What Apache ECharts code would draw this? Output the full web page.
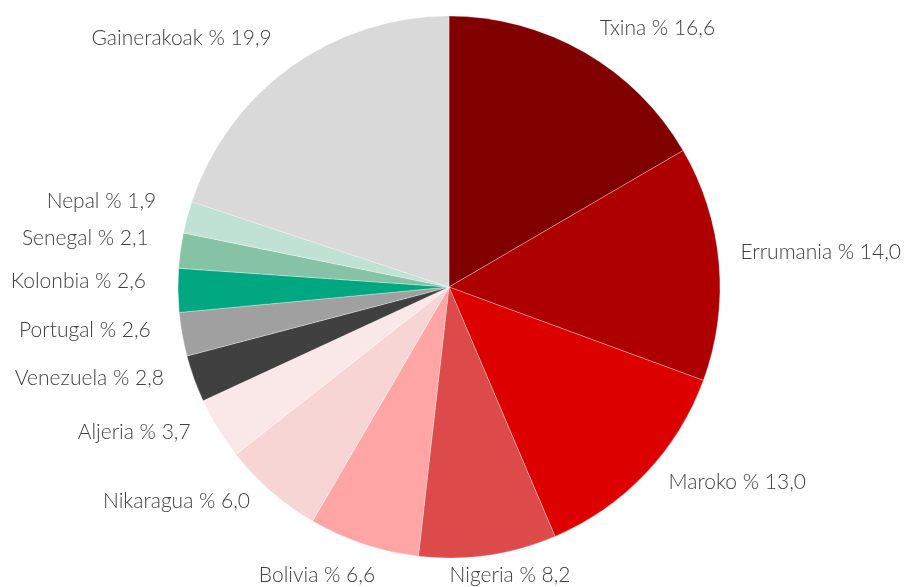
<!DOCTYPE html>
<html>
<head>
<meta charset="utf-8">
<script src="https://cdn.jsdelivr.net/npm/echarts@6/dist/echarts.min.js"></script>
<style>
  html, body { margin: 0; padding: 0; background: #fff; }
  #chart { width: 904px; height: 587px; }
</style>
</head>
<body>
<div id="chart"></div>
<script>
// herrialdeak eta ehunekoak (erlojuaren norabidean, goitik hasita)
const categories = ['Txina', 'Errumania', 'Maroko', 'Nigeria', 'Bolivia', 'Nikaragua', 'Aljeria',
  'Venezuela', 'Portugal', 'Kolonbia', 'Senegal', 'Nepal', 'Gainerakoak'];
const values = [16.6, 14.0, 13.0, 8.2, 6.6, 6.0, 3.7, 2.8, 2.6, 2.6, 2.1, 1.9, 19.9];
const colors = ['#800000', '#ae0000', '#dd0000', '#dc4a4a', '#ffa5a5', '#f8d5d5', '#fae8e8',
  '#404040', '#a0a0a0', '#00a882', '#86c3a6', '#c0e2d5', '#d9d9d9'];

const cx = 449, cy = 287, radius = 271;
const W = 904, H = 587;
const total = values.reduce((a, b) => a + b, 0);

const chart = echarts.init(document.getElementById('chart'));

chart.setOption({
  animation: false,
  series: [{
    type: 'pie',
    center: [cx, cy],
    radius: radius,
    startAngle: 90,
    clockwise: true,
    avoidLabelOverlap: false,
    itemStyle: { borderColor: 'rgba(255,255,255,0.6)', borderWidth: 0.5 },
    label: {
      show: true,
      position: 'outside',
      color: '#404040',
      fontFamily: 'Lato',
      fontWeight: 300,
      fontSize: 21,
      formatter: p => p.name + ' % ' + p.value.toFixed(1).replace('.', ',')
    },
    labelLine: { show: false },
    // etiketak xerraren erdiko angeluaren arabera kokatu, mihisearen barruan
    labelLayout: function (params) {
      const i = params.dataIndex;
      let before = 0;
      for (let k = 0; k < i; k++) before += values[k];
      const mid = (before + values[i] / 2) / total * Math.PI * 2;
      const ux = Math.sin(mid), uy = -Math.cos(mid);
      const R = radius + 32;
      const w = params.labelRect.width, h = params.labelRect.height;
      const s = Math.max(-1, Math.min(1, ux * 2));
      const dy = Math.abs(ux) < 0.5 ? 4 : -9 - 7 * uy;
      let x = cx + R * ux + w / 2 * s;
      x = Math.max(w / 2 + 2, Math.min(W - w / 2 - 3, x));
      let y = cy + R * uy + dy;
      y = Math.max(h / 2 + 4, Math.min(H - h / 2 - 1, y));
      return { x: x, y: y, align: 'center', verticalAlign: 'middle' };
    },
    emphasis: { disabled: true },
    data: categories.map((name, i) => ({
      name: name,
      value: values[i],
      itemStyle: { color: colors[i] }
    }))
  }]
});
</script>
</body>
</html>
